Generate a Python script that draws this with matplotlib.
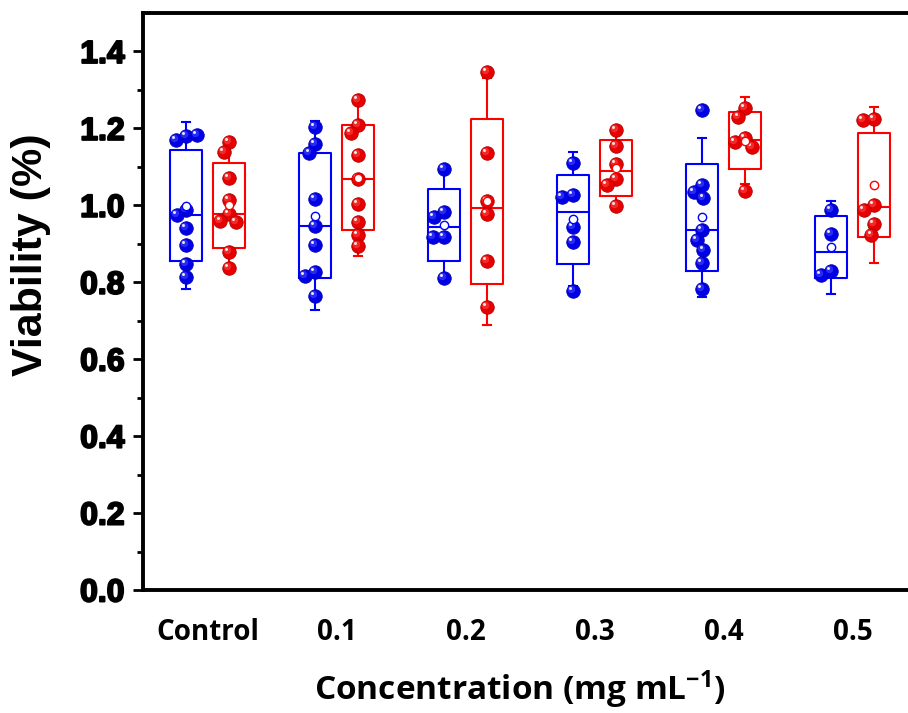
import numpy as np
import matplotlib
matplotlib.use("Agg")
import matplotlib.pyplot as plt
from matplotlib import patheffects as pe
from matplotlib.transforms import offset_copy

plt.rcParams['mathtext.fontset'] = 'custom'
plt.rcParams['mathtext.rm'] = 'Open Sans:bold'
plt.rcParams['mathtext.default'] = 'rm'

# ---------------- data ----------------
categories = ["Control", "0.1", "0.2", "0.3", "0.4", "0.5"]

blue_control = [1.180, 1.169, 1.184, 0.989, 0.974, 0.941, 0.896, 0.848, 0.814]
blue_01 = [1.204, 1.160, 1.135, 1.017, 0.945, 0.896, 0.826, 0.815, 0.763]
blue_02 = [1.095, 0.983, 0.969, 0.917, 0.917, 0.811]
blue_03 = [1.109, 1.026, 1.022, 0.943, 0.905, 0.776]
blue_04 = [1.249, 1.054, 1.034, 1.019, 0.935, 0.909, 0.885, 0.850, 0.782]
blue_05 = [0.989, 0.926, 0.830, 0.820]

red_control = [1.164, 1.139, 1.071, 1.015, 0.978, 0.960, 0.956, 0.878, 0.837]
red_01 = [1.275, 1.210, 1.188, 1.132, 1.069, 1.004, 0.956, 0.924, 0.893]
red_02 = [1.346, 1.136, 1.010, 0.978, 0.854, 0.737]
red_03 = [1.197, 1.154, 1.108, 1.069, 1.054, 0.997]
red_04 = [1.253, 1.230, 1.174, 1.165, 1.151, 1.038]
red_05 = [1.225, 1.223, 1.002, 0.989, 0.952, 0.924]

blue_series = [blue_control, blue_01, blue_02, blue_03, blue_04, blue_05]
red_series = [red_control, red_01, red_02, red_03, red_04, red_05]

yticks = [0.0, 0.2, 0.4, 0.6, 0.8, 1.0, 1.2, 1.4]

# ---------------- figure ----------------
W, H = 908, 713
fig = plt.figure(figsize=(W / 100, H / 100), dpi=100)
ax_l, ax_r, ax_t, ax_b = 143, 917, 13, 590
ax = fig.add_axes([ax_l / W, 1 - ax_b / H, (ax_r - ax_l) / W, (ax_b - ax_t) / H])
ax.set_xlim(0.5, 6.5)
ax.set_ylim(0, 1.5)

px_per_x = (ax_r - ax_l) / 6.0
px_per_y = (ax_b - ax_t) / 1.5

BLUE = "#0000FF"
RED = "#FF0000"
offset = 0.167
box_w = 32 / px_per_x
cap_w = 8 / px_per_x
diam_px = 13.5
ms = diam_px * 0.72


def stats_of(vals):
    v = np.asarray(vals, float)
    m = v.mean()
    sd = v.std(ddof=1)
    return dict(med=np.median(v), q1=m - sd, q3=m + sd,
                whislo=m - 1.5 * sd, whishi=m + 1.5 * sd, mean=m, fliers=[])


def swarm(vals, d):
    ypx = np.asarray(vals, float) * px_per_y
    placed = []
    out = np.zeros(len(ypx))
    for i, y in enumerate(ypx):
        cands = [0.0]
        for (px, py) in placed:
            dy = y - py
            if abs(dy) < d:
                dx = np.sqrt(d * d - dy * dy)
                cands += [px - dx, px + dx]
        valid = [c for c in cands
                 if all((c - px) ** 2 + (y - py) ** 2 >= d * d - 1e-6 for px, py in placed)]
        best = min(valid, key=lambda c: (abs(c), c))
        placed.append((best, y))
        out[i] = best
    return out / px_per_x


def lighten(c, f):
    rgb = np.array(matplotlib.colors.to_rgb(c))
    return tuple(rgb + (1 - rgb) * f)


def darken(c, f):
    rgb = np.array(matplotlib.colors.to_rgb(c))
    return tuple(rgb * f)


t_hi1 = offset_copy(ax.transData, fig=fig, x=-2.0, y=2.0, units='dots')
t_hi2 = offset_copy(ax.transData, fig=fig, x=-2.8, y=3.0, units='dots')


def draw_group(series, color, dx):
    positions = [i + 1 + dx for i in range(len(series))]
    st = [stats_of(s) for s in series]
    lp = dict(color=color, linewidth=1.5)
    ax.bxp(st, positions=positions, widths=box_w, capwidths=cap_w,
           showfliers=False, showmeans=False,
           boxprops=lp, whiskerprops=lp, capprops=lp, medianprops=lp)
    for pos, vals in zip(positions, series):
        xo = swarm(vals, diam_px * 0.82)
        xs = pos + xo
        ax.plot(xs, vals, 'o', ms=ms, color=darken(color, 0.9), mec=darken(color, 0.7),
                mew=0.6, zorder=3, linestyle='none')
        ax.plot(xs, vals, 'o', ms=ms * 0.55, color=lighten(color, 0.3), mew=0,
                alpha=0.55, zorder=3.1, transform=t_hi1, linestyle='none')
        ax.plot(xs, vals, 'o', ms=ms * 0.22, color='white', mew=0,
                alpha=0.9, zorder=3.2, transform=t_hi2, linestyle='none')
    means = [s['mean'] for s in st]
    ax.plot(positions, means, 'o', ms=6.0, mfc='white', mec=color, mew=1.0,
            zorder=4, linestyle='none')


draw_group(blue_series, BLUE, -offset)
draw_group(red_series, RED, offset)

# ---------------- axes styling ----------------
for side in ['left', 'bottom', 'top']:
    ax.spines[side].set_linewidth(2.8)
ax.spines['right'].set_visible(False)

ax.set_yticks(yticks)
ax.set_yticks(np.arange(0.1, 1.5, 0.2), minor=True)
ax.tick_params(axis='y', which='major', direction='out', length=7.2, width=2.0, pad=6)
ax.tick_params(axis='y', which='minor', direction='out', length=4.3, width=2.0)
ax.set_yticklabels([f"{v:.1f}" for v in yticks])
for lab in ax.get_yticklabels():
    lab.set_fontfamily('Liberation Sans')
    lab.set_fontweight('bold')
    lab.set_fontsize(23)
    lab.set_path_effects([pe.withStroke(linewidth=1.4, foreground='black')])

ax.set_xticks(range(1, 7))
ax.set_xticklabels(categories)
ax.tick_params(axis='x', which='both', length=0, pad=20)
for lab in ax.get_xticklabels():
    lab.set_fontfamily('Open Sans')
    lab.set_fontweight('bold')
    lab.set_fontsize(20)

fig.text(31 / W, 1 - 255 / H, "Viability (%)", rotation=90, ha='center', va='center',
         fontfamily='Liberation Sans', fontweight='bold', fontsize=31)
fig.text(520 / W, 1 - 690 / H, "Concentration (mg mL$^{-1}$)", ha='center', va='center',
         fontfamily='Open Sans', fontweight='bold', fontsize=24)

fig.savefig("out.png", dpi=100)
